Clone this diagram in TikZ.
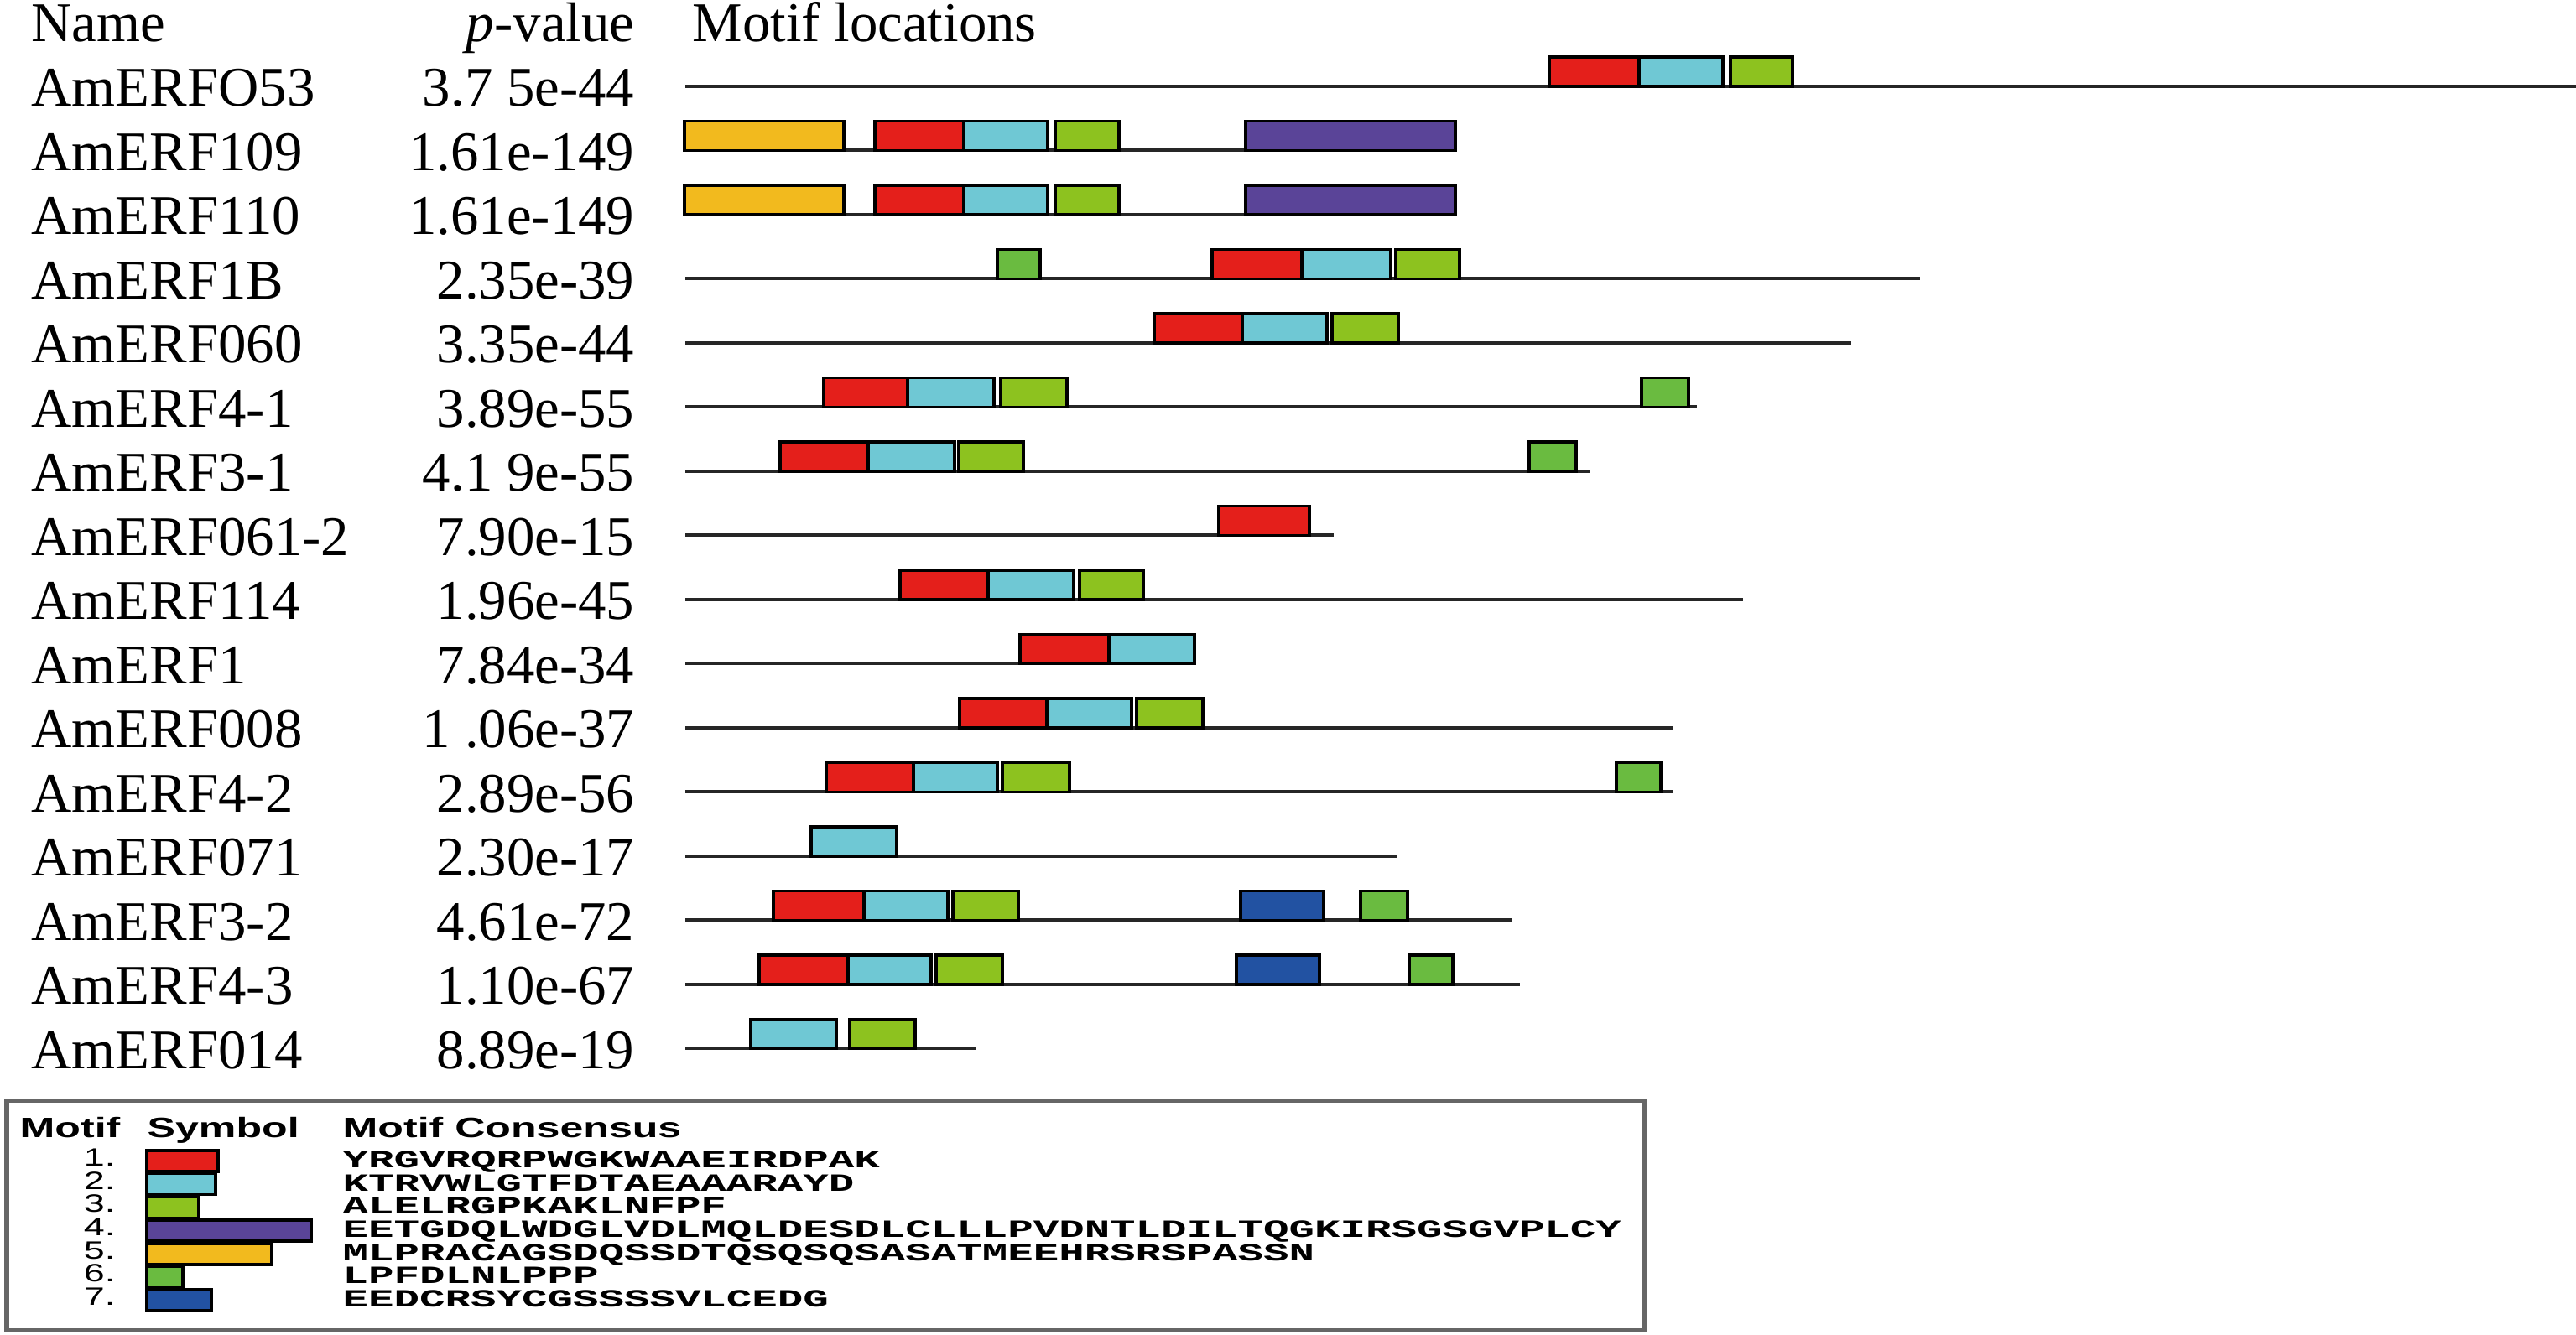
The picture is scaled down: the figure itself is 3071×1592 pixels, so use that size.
\documentclass[tikz,border=0pt]{standalone}
\usepackage{fontspec}
\setmainfont{Liberation Serif}
\setsansfont{Liberation Sans}
\setmonofont{Liberation Mono}
\usetikzlibrary{positioning}

\definecolor{motifA}{HTML}{E41F1B}
\definecolor{motifB}{HTML}{6FC8D4}
\definecolor{motifC}{HTML}{8DC21F}
\definecolor{motifD}{HTML}{5A4498}
\definecolor{motifE}{HTML}{F2BA1E}
\definecolor{motifF}{HTML}{6ABB40}
\definecolor{motifG}{HTML}{2252A2}

\newcommand\wide[1]{\scalebox{1.5}[1]{#1}}
\newcommand\wider[1]{\scalebox{1.72}[1]{#1}}

\tikzset{
  gene/.style={line width=0.04cm, black!85},
  motif/.style={draw=black, line width=1pt},
  label/.style={inner sep=0pt, font=\fontsize{19}{19}\selectfont},
  keyhead/.style={inner sep=0pt, font=\sffamily\bfseries\fontsize{9.5}{9.5}\selectfont},
  keynum/.style={inner sep=0pt, font=\sffamily\fontsize{8.5}{8.5}\selectfont},
  seq/.style={inner sep=0pt, font=\ttfamily\bfseries\fontsize{8.4}{8.4}\selectfont}
}

\begin{document}
\begin{tikzpicture}[x=0.01cm, y=-0.01cm]
		\useasboundingbox (0,0) rectangle (3071,1592);

		\node[label, anchor=base west] (hname) at (37,50) {Name};
		\node[label, anchor=base east] (hpval) at (757,50) {\textit{p}-value};
		\node[label, anchor=base west] (hloc) at (825,50) {Motif locations};

		\foreach \i/\nm/\pv/\len in {1/AmERFO53/3.7 5e-44/3071, 2/AmERF109/1.61e-149/1735,
			3/AmERF110/1.61e-149/1735, 4/AmERF1B/2.35e-39/2289, 5/AmERF060/3.35e-44/2207,
			6/AmERF4-1/3.89e-55/2023, 7/AmERF3-1/4.1 9e-55/1895, 8/AmERF061-2/7.90e-15/1590,
			9/AmERF114/1.96e-45/2078, 10/AmERF1/7.84e-34/1426, 11/AmERF008/1 .06e-37/1994,
			12/AmERF4-2/2.89e-56/1994, 13/AmERF071/2.30e-17/1665, 14/AmERF3-2/4.61e-72/1802,
			15/AmERF4-3/1.10e-67/1812, 16/AmERF014/8.89e-19/1163} {
			\pgfmathsetmacro\y{103+76.5*(\i-1)}
			\draw[gene] (817,\y) -- (\len,\y);
			\node[label, anchor=base west] (name-\i) at (37,\y+24) {\nm};
			\node[label, anchor=base east] (pval-\i) at (757,\y+24) {\pv};
		}

		\foreach \i/\m/\a/\b in {1/motifA/1847/1954, 1/motifB/1954/2054, 1/motifC/2063/2137,
			2/motifE/816/1006, 2/motifA/1043/1149, 2/motifB/1149/1249, 2/motifC/1258/1334, 2/motifD/1485/1735,
			3/motifE/816/1006, 3/motifA/1043/1149, 3/motifB/1149/1249, 3/motifC/1258/1334, 3/motifD/1485/1735,
			4/motifF/1189/1240, 4/motifA/1445/1552, 4/motifB/1552/1658, 4/motifC/1664/1740,
			5/motifA/1376/1481, 5/motifB/1481/1582, 5/motifC/1588/1667,
			6/motifA/982/1082, 6/motifB/1082/1185, 6/motifC/1193/1272, 6/motifF/1957/2013,
			7/motifA/930/1035, 7/motifB/1035/1138, 7/motifC/1143/1220, 7/motifF/1823/1879,
			8/motifA/1453/1561,
			9/motifA/1073/1178, 9/motifB/1178/1280, 9/motifC/1287/1363,
			10/motifA/1216/1322, 10/motifB/1322/1424,
			11/motifA/1144/1248, 11/motifB/1248/1349, 11/motifC/1355/1434,
			12/motifA/985/1089, 12/motifB/1089/1189, 12/motifC/1195/1275, 12/motifF/1927/1980,
			13/motifB/967/1069,
			14/motifA/922/1030, 14/motifB/1030/1130, 14/motifC/1136/1214, 14/motifG/1479/1578, 14/motifF/1622/1678,
			15/motifA/905/1011, 15/motifB/1011/1110, 15/motifC/1116/1195, 15/motifG/1474/1573, 15/motifF/1680/1732,
			16/motifB/895/997, 16/motifC/1013/1091} {
			\pgfmathsetmacro\y{103+76.5*(\i-1)}
			\draw[motif, fill=\m] (\a,\y-35) rectangle (\b,\y);
		}

		% legend
		\draw[line width=0.05cm, black!60] (8,1313) rectangle (1960,1587);
		\node[keyhead, anchor=base west] (kmotif) at (23,1357) {\wide{Motif}};
		\node[keyhead, anchor=base west] (ksymbol) at (175,1357) {\wide{Symbol}};
		\node[keyhead, anchor=base west] (kcons) at (408,1357) {\wide{Motif Consensus}};
		\foreach \k/\m/\w/\s in {1/motifA/260/YRGVRQRPWGKWAAEIRDPAK, 2/motifB/257/KTRVWLGTFDTAEAAARAYD,
			3/motifC/237/ALELRGPKAKLNFPF, 4/motifD/371/EETGDQLWDGLVDLMQLDESDLCLLLPVDNTLDILTQGKIRSGSGVPLCY,
			5/motifE/324/MLPRACAGSDQSSDTQSQSQSASATMEEHRSRSPASSN, 6/motifF/218/LPFDLNLPPP,
			7/motifG/252/EEDCRSYCGSSSSVLCEDG} {
			\pgfmathsetmacro\c{1384.5+27.7*(\k-1)}
			\node[keynum, anchor=base east] (num-\k) at (138,\c+6) {\wide{\k.}};
			\draw[motif, fill=\m] (175,\c-12.5) rectangle (\w,\c+12.5);
			\node[seq, anchor=base west] (cons-\k) at (408,\c+8) {\wider{\s}};
		}
	\end{tikzpicture}
\end{document}
